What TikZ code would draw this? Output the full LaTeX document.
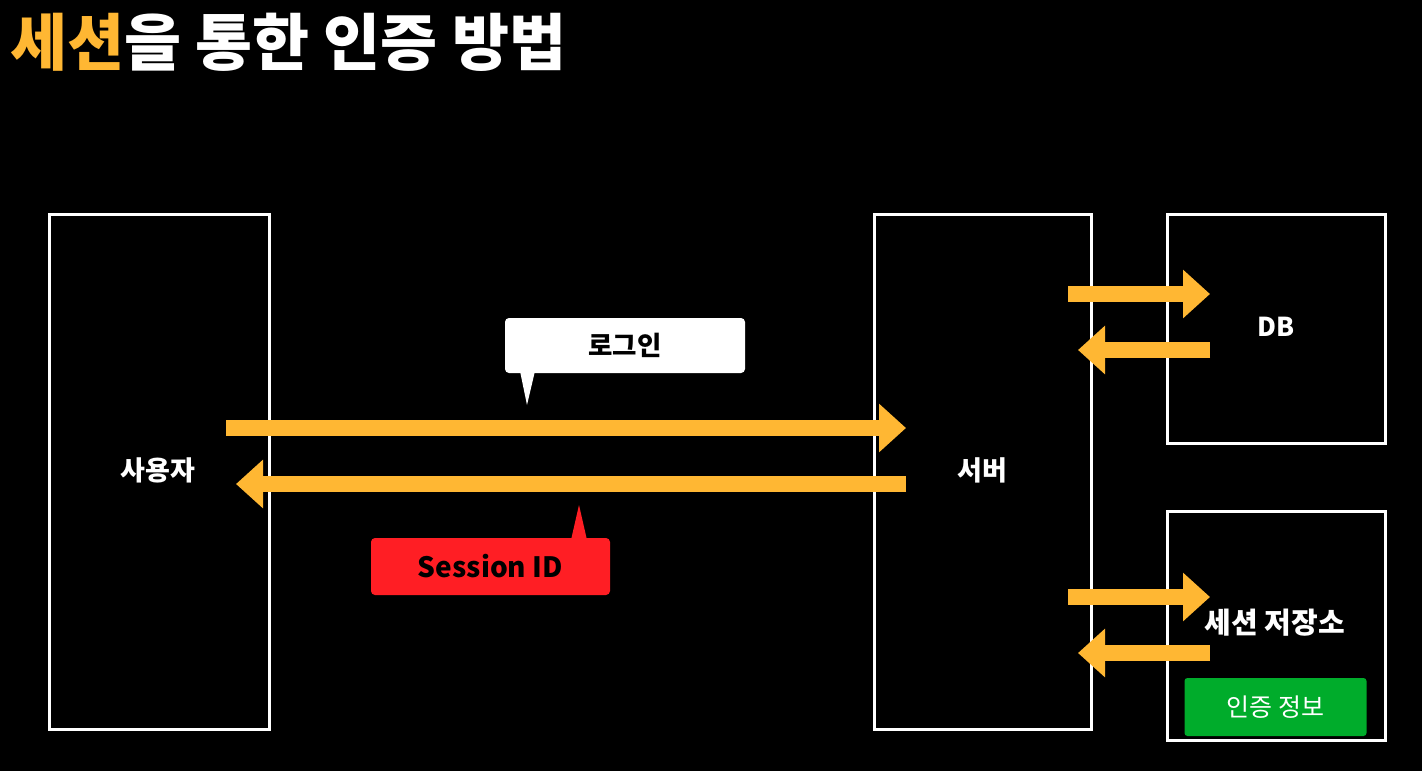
\documentclass[tikz,border=0pt]{standalone}
\usepackage{fontspec}
\newfontfamily\cjk{Noto Sans CJK KR}
\usetikzlibrary{arrows.meta}
\definecolor{orng}{RGB}{255,183,51}
\definecolor{calloutred}{RGB}{255,30,36}
\definecolor{infogreen}{RGB}{0,172,43}
\tikzset{
  box/.style={draw=white,line width=3pt,minimum width=#1,inner sep=0pt},
  lbl/.style={text=white,font=\cjk\bfseries\fontsize{27}{32}\selectfont,inner sep=0pt},
  flow/.style={draw=orng,line width=16pt,-{Triangle[width=47pt,length=27pt]},shorten >=0pt},
}
\begin{document}
\begin{tikzpicture}[x=1pt,y=-1pt]
\fill[black] (0,0) rectangle (1422,771);
\useasboundingbox (0,0) rectangle (1422,771);

% title
\node[anchor=west,inner sep=0pt,font=\cjk\bfseries\fontsize{62}{68}\selectfont] (title) at (10,42)
  {\textcolor{orng}{세션}\textcolor{white}{을 통한 인증 방법}};

% boxes
\node[box=220pt,minimum height=515pt] (user) at (159,471.5) {};
\node[box=217pt,minimum height=515pt] (server) at (982.5,471.5) {};
\node[box=218pt,minimum height=229pt] (db) at (1276,328.5) {};
\node[box=218pt,minimum height=229pt] (store) at (1276,625.5) {};

% labels
\node[lbl] (userlbl) at (158,470) {사용자};
\node[lbl] (serverlbl) at (982,470) {서버};
\node[lbl,font=\cjk\bfseries\fontsize{26}{30}\selectfont] (dblbl) at (1276,327) {DB};
\node[lbl,font=\cjk\bfseries\fontsize{29}{34}\selectfont] (storelbl) at (1275,623) {세션 저장소};

% green info box
\node[fill=infogreen,rounded corners=3pt,minimum width=182pt,minimum height=58pt,inner sep=0pt,
      text=white,font=\cjk\fontsize{25}{30}\selectfont] (info) at (1275.5,707) {인증 정보};

% coordinates for flows
\coordinate (a1s) at (226,428);  \coordinate (a1e) at (906,428);
\coordinate (a2s) at (906,484);  \coordinate (a2e) at (236,484);
\coordinate (d1s) at (1068,294); \coordinate (d1e) at (1210,294);
\coordinate (d2s) at (1210,350); \coordinate (d2e) at (1078,350);
\coordinate (s1s) at (1068,597); \coordinate (s1e) at (1210,597);
\coordinate (s2s) at (1210,653); \coordinate (s2e) at (1078,653);

\draw[flow] (a1s) -- (a1e);
\draw[flow] (a2s) -- (a2e);
\draw[flow] (d1s) -- (d1e);
\draw[flow] (d2s) -- (d2e);
\draw[flow] (s1s) -- (s1e);
\draw[flow] (s2s) -- (s2e);

% login callout
\node[fill=white,rounded corners=4pt,minimum width=240pt,minimum height=55pt,inner sep=0pt,
      text=black,font=\cjk\bfseries\fontsize{26.5}{30}\selectfont] (login) at (625,345.5) {로그인};
\coordinate (logintip) at (527,405);
\fill[white] (520,371) -- (logintip) -- (535,371) -- cycle;

% session id callout
\node[fill=calloutred,rounded corners=4pt,minimum width=239pt,minimum height=57pt,inner sep=0pt,
      text=black,font=\cjk\bfseries\fontsize{28}{32}\selectfont] (sid) at (490.5,566.5) {Session ID};
\coordinate (sidtip) at (579,505);
\fill[calloutred] (571,540) -- (sidtip) -- (587,540) -- cycle;
\end{tikzpicture}
\end{document}
